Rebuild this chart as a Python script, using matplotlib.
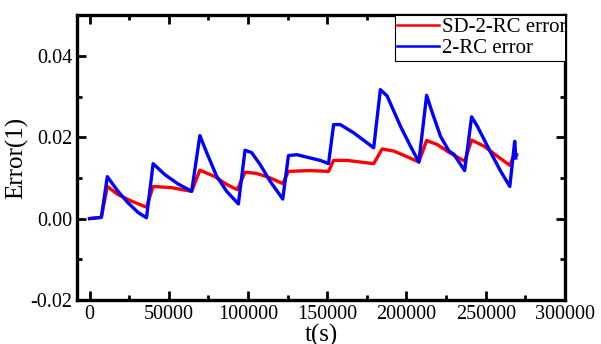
import numpy as np
import matplotlib.pyplot as plt

plt.rcParams['font.family'] = ['Liberation Serif', 'DejaVu Serif']

# blue: 2-RC error
t_2rc = [0, 7400, 11200, 17900, 24200, 30600, 35900, 40100, 47500, 55900, 64400,
         69600, 73900, 80200, 86500, 93900, 98100, 102300, 107600, 113900, 121900,
         125500, 130800, 139200, 145600, 150800, 154000, 158200, 166600, 179300,
         183500, 187800, 196200, 202500, 207800, 212700, 216300, 221500, 226800,
         229900, 236700, 241100, 244700, 253200, 259500, 265200, 268300, 269000]
e_2rc = [0.0, 0.0003, 0.0103, 0.0067, 0.0039, 0.0015, 0.0002, 0.0135, 0.0108, 0.0085,
         0.0067, 0.0204, 0.0162, 0.0104, 0.0067, 0.0036, 0.0168, 0.0162, 0.0133, 0.0092,
         0.0048, 0.0155, 0.0157, 0.0149, 0.0143, 0.0135, 0.0231, 0.0231, 0.0211, 0.0174,
         0.0317, 0.0301, 0.0227, 0.0178, 0.0139, 0.0303, 0.0260, 0.0202, 0.0166,
         0.0158, 0.0118, 0.0250, 0.0227, 0.0162, 0.0116, 0.0079, 0.0190, 0.0149]

# red: SD-2-RC error
t_sd = [0, 7400, 11200, 17900, 26400, 35900, 40100, 51700, 64400, 69600, 79100,
        86500, 93200, 98100, 105500, 113900, 121900, 125500, 139200, 150800, 154000,
        162400, 179300, 184600, 192000, 200400, 207800, 212700, 219400, 226800,
        236700, 241100, 248900, 257400, 265200, 267900, 269600]
e_sd = [0.0, 0.0003, 0.0079, 0.0059, 0.0043, 0.0028, 0.0079, 0.0076, 0.0067, 0.0119,
        0.0103, 0.0084, 0.0071, 0.0114, 0.0111, 0.0100, 0.0086, 0.0116, 0.0118, 0.0116,
        0.0143, 0.0143, 0.0135, 0.0171, 0.0166, 0.0152, 0.0139, 0.0192, 0.0182, 0.0163,
        0.0141, 0.0193, 0.0178, 0.0153, 0.0131, 0.0157, 0.0157]

fig = plt.figure(figsize=(6.01, 3.44), dpi=100)
ax = fig.add_axes([0.128, 0.128, 0.812, 0.828])

ax.plot(t_sd, e_sd, color='#ff0000', lw=2.4, label='SD-2-RC error')
ax.plot(t_2rc, e_2rc, color='#0000ff', lw=2.4, label='2-RC error')

ax.set_xlim(-8000, 300000)
ax.set_ylim(-0.02, 0.05)
ax.set_xticks([0, 50000, 100000, 150000, 200000, 250000, 300000])
ax.set_xticks(np.arange(25000, 300000, 50000), minor=True)
ax.set_yticks([-0.02, 0.0, 0.02, 0.04])
ax.set_yticks([-0.01, 0.01, 0.03], minor=True)
ax.set_yticklabels(['-0.02', '0.00', '0.02', '0.04'])

ax.tick_params(which='both', direction='in', top=True, right=True, width=2,
               labelsize=14.5)
ax.tick_params(which='major', length=6.5)
ax.tick_params(which='minor', length=3.5)
for s in ax.spines.values():
    s.set_linewidth(2.4)

ax.set_xlabel('t(s)', fontsize=18, labelpad=0)
ax.set_ylabel('Error(1)', fontsize=18, labelpad=1)

# legend sits against the top spine, its right side runs past the frame
leg = ax.legend(loc='upper left', bbox_to_anchor=(0.652, 1.0), fontsize=15,
                frameon=True, framealpha=1, fancybox=False, borderaxespad=0,
                handlelength=2.0, borderpad=0.1, labelspacing=0.1,
                handletextpad=0.15)
leg.set_zorder(10)
leg.get_frame().set_edgecolor('black')
leg.get_frame().set_linewidth(0.8)
leg.get_frame().set_clip_box(ax.bbox)
leg.get_frame().set_clip_on(True)
for txt in leg.get_texts():
    txt.set_clip_box(ax.bbox)
    txt.set_clip_on(True)
for h in leg.get_lines():
    h.set_linewidth(1.8)

fig.savefig('out.png', dpi=100)
